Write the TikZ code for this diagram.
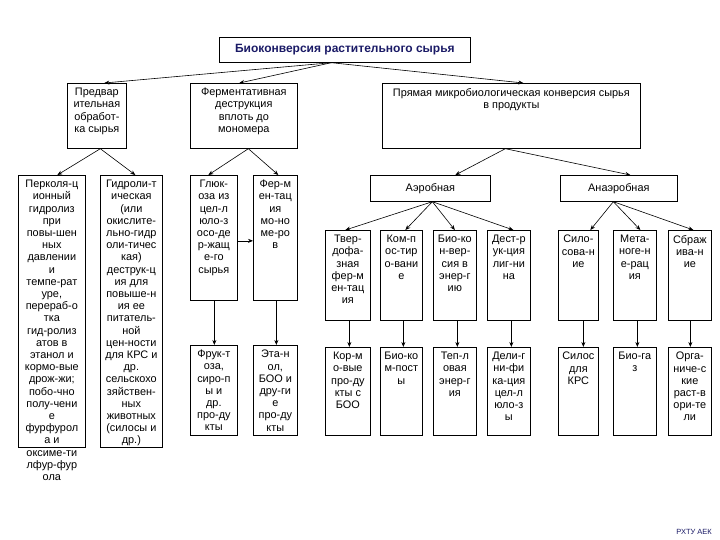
\documentclass[tikz,border=0pt]{standalone}
\usepackage{fontspec}
\setmainfont{Liberation Sans}
\usetikzlibrary{arrows.meta}
\definecolor{navy}{HTML}{1A1A66}
\newcommand\mkbox[5]{\node[bx, minimum width={#4-#2}, minimum height={#5-#3}] (#1) at (#2,#3) {};}
\begin{document}
\begin{tikzpicture}[x=1pt,y=-1pt,
 bx/.style={draw=black, line width=0.7pt, inner sep=0pt, anchor=north west},
 txt/.style={anchor=north, align=center, inner sep=0pt, font=\fontsize{10.9}{12.2}\selectfont},
 arr/.style={-{Stealth[length=5pt,width=4pt]}, line width=0.6pt}
]
\useasboundingbox (0,0) rectangle (720,540);
% boxes
\mkbox{title}{219}{37}{470}{62}
\mkbox{A}{67}{83}{126}{148}
\mkbox{B}{190}{83}{297}{148}
\mkbox{C}{382}{83}{640}{148}
\mkbox{P1}{18}{175}{85}{447}
\mkbox{P2}{100}{175}{162}{447}
\mkbox{G}{190}{175}{237}{300}
\mkbox{F}{253}{175}{297}{300}
\mkbox{FR}{190}{345}{237}{435}
\mkbox{ET}{253}{345}{297}{435}
\mkbox{AER}{370}{175}{490}{201}
\mkbox{ANA}{560}{175}{677}{201}
\mkbox{T1}{325}{230}{370}{320}
\mkbox{T2}{380}{230}{422}{320}
\mkbox{T3}{433}{230}{476}{320}
\mkbox{T4}{487}{230}{530}{320}
\mkbox{R1}{325}{347}{370}{435}
\mkbox{R2}{380}{347}{422}{435}
\mkbox{R3}{433}{347}{476}{435}
\mkbox{R4}{487}{347}{530}{435}
\mkbox{S1}{558}{230}{598}{320}
\mkbox{S2}{613}{230}{656}{320}
\mkbox{S3}{668}{230}{711}{320}
\mkbox{Q1}{558}{347}{598}{435}
\mkbox{Q2}{613}{347}{656}{435}
\mkbox{Q3}{668}{347}{711}{435}
% texts
\node[anchor=center, inner sep=0pt, font=\fontsize{12}{14}\selectfont\bfseries, text=navy] (titletext) at (title.center) {Биоконверсия растительного сырья};
\node[txt] (tA) at ([yshift=-5pt]A.north) {Предвар\\ительная\\обработ-\\ка сырья};
\node[txt] (tB) at ([yshift=-5pt]B.north) {Ферментативная\\деструкция\\вплоть до\\мономера};
\node[txt] (tC) at ([yshift=-5pt]C.north) {Прямая микробиологическая конверсия сырья\\в продукты};
\node[txt] (tP1) at ([yshift=-5pt]P1.north) {Перколя-ц\\ионный\\гидролиз\\при\\повы-шен\\ных\\давлении\\и\\темпе-рат\\уре,\\перераб-о\\тка\\гид-ролиз\\атов в\\этанол и\\кормо-вые\\дрож-жи;\\побо-чно\\полу-чени\\е\\фурфурол\\а и\\оксиме-ти\\лфур-фур\\ола};
\node[txt] (tP2) at ([yshift=-5pt]P2.north) {Гидроли-т\\ическая\\(или\\окислите-\\льно-гидр\\оли-тичес\\кая)\\деструк-ц\\ия для\\повыше-н\\ия ее\\питатель-\\ной\\цен-ности\\для КРС и\\др.\\сельскохо\\зяйствен-\\ных\\животных\\(силосы и\\др.)};
\node[txt] (tG) at ([yshift=-5pt]G.north) {Глюк-\\оза из\\цел-л\\юло-з\\осо-де\\р-жащ\\е-го\\сырья};
\node[txt] (tF) at ([yshift=-5pt]F.north) {Фер-м\\ен-тац\\ия\\мо-но\\ме-ро\\в};
\node[txt] (tFR) at ([yshift=-5pt]FR.north) {Фрук-т\\оза,\\сиро-п\\ы и\\др.\\про-ду\\кты};
\node[txt] (tET) at ([yshift=-5pt]ET.north) {Эта-н\\ол,\\БОО и\\дру-ги\\е\\про-ду\\кты};
\node[txt, anchor=center] (tAER) at (AER.center) {Аэробная};
\node[txt, anchor=center] (tANA) at (ANA.center) {Анаэробная};
\node[txt] (tT1) at ([yshift=-5pt]T1.north) {Твер-\\дофа-\\зная\\фер-м\\ен-тац\\ия};
\node[txt] (tT2) at ([yshift=-5pt]T2.north) {Ком-п\\ос-тир\\о-вани\\е};
\node[txt] (tT3) at ([yshift=-5pt]T3.north) {Био-ко\\н-вер-\\сия в\\энер-г\\ию};
\node[txt] (tT4) at ([yshift=-5pt]T4.north) {Дест-р\\ук-ция\\лиг-ни\\на};
\node[txt] (tR1) at ([yshift=-5pt]R1.north) {Кор-м\\о-вые\\про-ду\\кты с\\БОО};
\node[txt] (tR2) at ([yshift=-5pt]R2.north) {Био-ко\\м-пост\\ы};
\node[txt] (tR3) at ([yshift=-5pt]R3.north) {Теп-л\\овая\\энер-г\\ия};
\node[txt] (tR4) at ([yshift=-5pt]R4.north) {Дели-г\\ни-фи\\ка-ция\\цел-л\\юло-з\\ы};
\node[txt] (tS1) at ([yshift=-5pt]S1.north) {Сило-\\сова-н\\ие};
\node[txt] (tS2) at ([yshift=-5pt]S2.north) {Мета-\\ноге-н\\е-рац\\ия};
\node[txt] (tS3) at ([yshift=-5pt]S3.north) {Сбраж\\ива-н\\ие};
\node[txt] (tQ1) at ([yshift=-5pt]Q1.north) {Силос\\для\\КРС};
\node[txt] (tQ2) at ([yshift=-5pt]Q2.north) {Био-га\\з};
\node[txt] (tQ3) at ([yshift=-5pt]Q3.north) {Орга-\\ниче-с\\кие\\раст-в\\ори-те\\ли};
\node[anchor=east, inner sep=0pt, font=\fontsize{7.5}{8}\selectfont, text=navy] (foot) at (712,532) {РХТУ АЕК};
% arrows
\draw[arr] ([xshift=-13.5pt]title.south) -- ([xshift=7.5pt]A.north);
\draw[arr] ([xshift=-13.5pt]title.south) -- ([xshift=-4.5pt]B.north);
\draw[arr] ([xshift=-13.5pt]title.south) -- ([xshift=12pt]C.north);
\draw[arr] ([xshift=3.5pt]A.south) -- ([xshift=5.5pt]P1.north);
\draw[arr] ([xshift=3.5pt]A.south) -- ([xshift=4pt]P2.north);
\draw[arr] ([xshift=4.5pt]B.south) -- ([xshift=-5.5pt]G.north);
\draw[arr] ([xshift=4.5pt]B.south) -- ([xshift=3pt]F.north);
\draw[arr] ([yshift=-3pt]G.east) -- ([yshift=-3pt]F.west);
\draw[arr] ([xshift=0.5pt]G.south) -- ([xshift=0.5pt]FR.north);
\draw[arr] ([xshift=1pt]F.south) -- ([xshift=1pt]ET.north);
\draw[arr] ([xshift=-6pt]C.south) -- ([xshift=25pt]AER.north);
\draw[arr] ([xshift=-6pt]C.south) -- ([xshift=11.5pt]ANA.north);
\draw[arr] ([xshift=2pt]AER.south) -- ([xshift=-2.5pt]T1.north);
\draw[arr] ([xshift=2pt]AER.south) -- ([xshift=4pt]T2.north);
\draw[arr] ([xshift=2pt]AER.south) -- ([xshift=0pt]T3.north);
\draw[arr] ([xshift=2pt]AER.south) -- ([xshift=4.5pt]T4.north);
\draw[arr] ([xshift=-5.5pt]ANA.south) -- ([xshift=12pt]S1.north);
\draw[arr] ([xshift=-5.5pt]ANA.south) -- ([xshift=5.5pt]S2.north);
\draw[arr] ([xshift=-5.5pt]ANA.south) -- ([xshift=3.5pt]S3.north);
\draw[arr] ([xshift=1.5pt]T1.south) -- ([xshift=1.5pt]R1.north);
\draw[arr] ([xshift=2pt]T2.south) -- ([xshift=2pt]R2.north);
\draw[arr] ([xshift=2.5pt]T3.south) -- ([xshift=2.5pt]R3.north);
\draw[arr] ([xshift=2.5pt]T4.south) -- ([xshift=2.5pt]R4.north);
\draw[arr] ([xshift=5pt]S1.south) -- ([xshift=5pt]Q1.north);
\draw[arr] ([xshift=2.5pt]S2.south) -- ([xshift=2.5pt]Q2.north);
\draw[arr] ([xshift=0.5pt]S3.south) -- ([xshift=0.5pt]Q3.north);
\end{tikzpicture}
\end{document}
